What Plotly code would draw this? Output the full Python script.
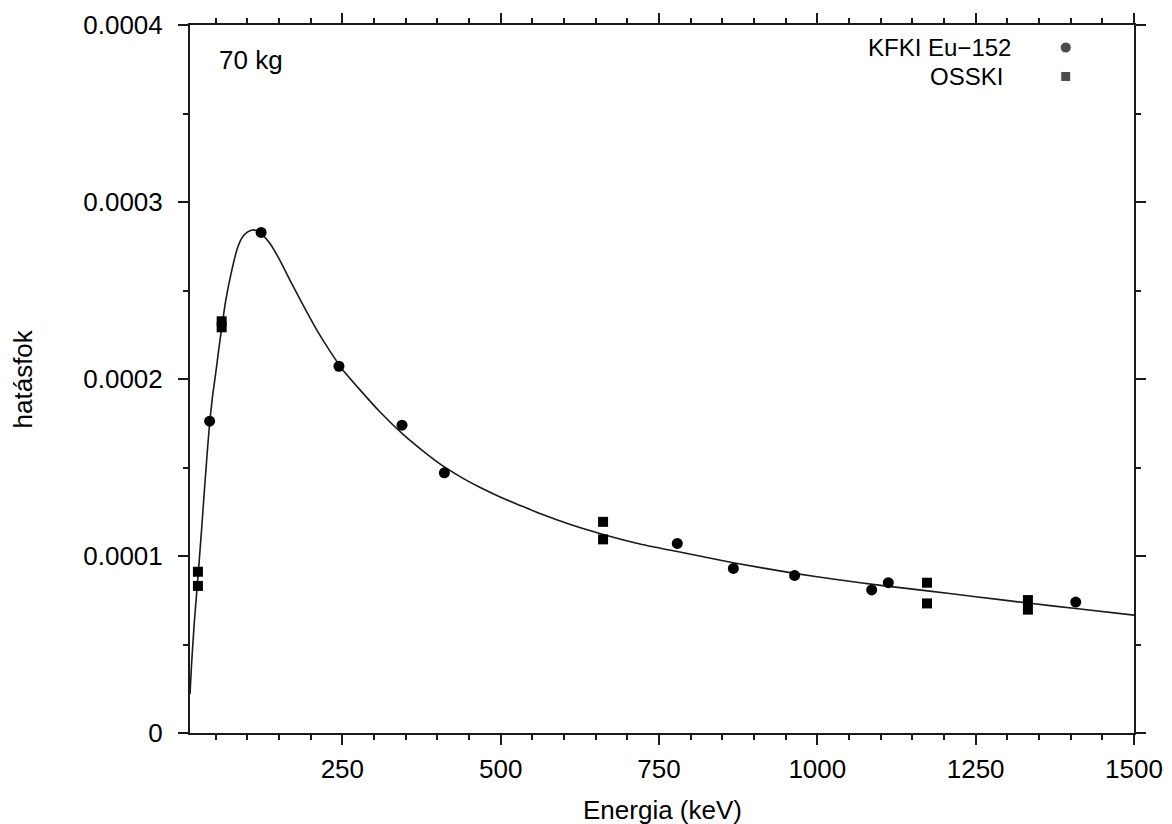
import plotly.graph_objects as go

# KFKI Eu-152 measured points (keV, efficiency)
kfki_energy = [40.5, 121.8, 244.7, 344.3, 411.1, 778.9, 867.4, 964.1, 1085.8, 1112.1, 1408.0]
kfki_eff = [0.0001762, 0.0002828, 0.0002072, 0.0001739, 0.0001470, 0.0001071, 0.0000930,
            0.0000890, 0.0000808, 0.0000849, 0.0000740]

# OSSKI measured points
osski_energy = [22.0, 22.0, 59.5, 59.5, 661.7, 661.7, 1173.2, 1173.2, 1332.5, 1332.5]
osski_eff = [0.0000911, 0.0000831, 0.0002326, 0.0002292, 0.0001193, 0.0001094,
             0.0000849, 0.0000732, 0.0000751, 0.0000697]

# fitted efficiency curve
curve_energy = [9.5, 12, 16, 20, 24, 28, 32, 36, 40, 45, 50, 55, 60, 66, 74, 84, 92, 100,
                108, 115, 122, 135, 150, 170, 190, 210, 230, 250, 280, 310, 346, 380, 410,
                440, 467, 500, 530, 562, 610, 662, 720, 779, 867, 964, 1036, 1100, 1174,
                1250, 1333, 1408, 1500]
curve_eff = [0.000022, 0.000039, 0.000061, 0.000079, 0.000097, 0.000116, 0.000136, 0.000155,
             0.000173, 0.000190, 0.000203, 0.000217, 0.000230, 0.0002445, 0.000259,
             0.0002735, 0.000280, 0.000283, 0.0002842, 0.0002838, 0.000282, 0.000277,
             0.000268, 0.000254, 0.0002405, 0.0002275, 0.000216, 0.0002055, 0.000193,
             0.0001812, 0.0001687, 0.0001586, 0.0001506, 0.000144, 0.0001388, 0.0001332,
             0.0001287, 0.000124, 0.0001178, 0.0001122, 0.0001068, 0.0001025, 0.0000962,
             0.0000902, 0.0000864, 0.0000834, 0.0000803, 0.000077, 0.0000734, 0.0000703,
             0.0000666]

y_tickvals = [0, 0.0001, 0.0002, 0.0003, 0.0004]
y_ticktext = ["0", "0.0001", "0.0002", "0.0003", "0.0004"]

legend_labels = ["KFKI Eu\u2212152", "OSSKI"]

FONT = "Liberation Sans, Arial, sans-serif"
FS = 26
LFS = 24

fig = go.Figure()
fig.add_trace(go.Scatter(x=curve_energy, y=curve_eff, mode="lines",
                         line=dict(color="#1a1a1a", width=1.6, shape="spline", smoothing=0.6),
                         showlegend=False, hoverinfo="skip"))
fig.add_trace(go.Scatter(x=kfki_energy, y=kfki_eff, mode="markers",
                         marker=dict(symbol="circle", size=11, color="black"),
                         showlegend=False))
fig.add_trace(go.Scatter(x=osski_energy, y=osski_eff, mode="markers",
                         marker=dict(symbol="square", size=10, color="black"),
                         showlegend=False))

# legend markers in paper-like coordinates
fig.add_trace(go.Scatter(x=[0.9277, 0.9277], y=[0.9682, 0.9273], xaxis="x2", yaxis="y2",
                         mode="markers",
                         marker=dict(symbol=["circle", "square"], size=[11, 10], color="black"),
                         showlegend=False, hoverinfo="skip"))

axis_common = dict(showline=True, linecolor="#1a1a1a", linewidth=2, mirror="ticks",
                   ticks="outside", ticklen=10, tickwidth=1.5, tickcolor="#1a1a1a",
                   showgrid=False, zeroline=False, automargin=False,
                   tickfont=dict(family=FONT, size=FS, color="black"))

# the page body adds an 8px offset, so the figure is 8px smaller than the window
fig.update_layout(
    width=1164, height=816,
    margin=dict(l=182, r=38, t=16.5, b=91),
    paper_bgcolor="white", plot_bgcolor="white",
    xaxis=dict(range=[9.5, 1500], tickmode="linear", tick0=0, dtick=250,
               minor=dict(ticks="outside", ticklen=5, dtick=50, tick0=0,
                          tickcolor="#1a1a1a", tickwidth=1.5, showgrid=False),
               ticklabelstandoff=2,
               **axis_common),
    yaxis=dict(range=[0, 0.0004], tickmode="array", tickvals=y_tickvals, ticktext=y_ticktext,
               minor=dict(ticks="outside", ticklen=5, dtick=0.00005, tick0=0,
                          tickcolor="#1a1a1a", tickwidth=1.5, showgrid=False),
               ticklabelstandoff=10,
               **axis_common),
    xaxis2=dict(range=[0, 1], overlaying="x", visible=False, fixedrange=True),
    yaxis2=dict(range=[0, 1], overlaying="y", visible=False, fixedrange=True),
    font=dict(family=FONT, size=FS, color="black"),
)

fig.add_annotation(x=0.5, y=-0.1087, xref="paper", yref="paper", text="Energia (keV)",
                   showarrow=False, xanchor="center", yanchor="middle",
                   font=dict(family=FONT, size=FS, color="black"))
fig.add_annotation(x=-0.1764, y=0.5, xref="paper", yref="paper", text="hatásfok",
                   showarrow=False, xanchor="center", yanchor="middle", textangle=-90,
                   font=dict(family=FONT, size=FS, color="black"))
fig.add_annotation(x=0.0282, y=0.95, xref="paper", yref="paper", text="70 kg",
                   showarrow=False, xanchor="left", yanchor="middle",
                   font=dict(family=FONT, size=FS, color="black"))
fig.add_annotation(x=0.8708, y=0.9682, xref="paper", yref="paper", text=legend_labels[0],
                   showarrow=False, xanchor="right", yanchor="middle",
                   borderpad=0, font=dict(family=FONT, size=LFS, color="black"))
fig.add_annotation(x=0.8623, y=0.9273, xref="paper", yref="paper", text=legend_labels[1],
                   showarrow=False, xanchor="right", yanchor="middle",
                   borderpad=0, font=dict(family=FONT, size=LFS, color="black"))

fig.write_html("out.html")
